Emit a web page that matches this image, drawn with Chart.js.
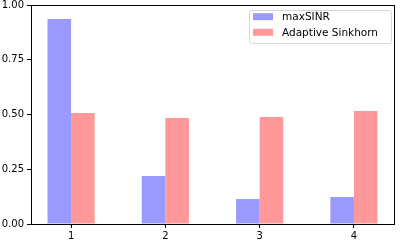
<!DOCTYPE html>
<html>
<head>
<meta charset="utf-8">
<script src="https://cdn.jsdelivr.net/npm/chart.js@4"></script>
<style>
  html, body { margin: 0; padding: 0; background: #fff; }
  #wrap { width: 402px; height: 243px; }
</style>
</head>
<body>
<div id="wrap"><canvas id="chart"></canvas></div>
<script>
const categories = [1, 2, 3, 4];
const maxSINR = [0.936, 0.219, 0.114, 0.123];
const adaptiveSinkhorn = [0.507, 0.484, 0.489, 0.516];
const yTicks = [0, 0.25, 0.5, 0.75, 1.0];

const FONT = { family: 'DejaVu Sans', size: 10 };

// frame around the plot + legend inside the axes (matplotlib style)
const framePlugin = {
  id: 'frame',
  afterDraw(chart) {
    const { ctx, chartArea: a } = chart;
    ctx.save();
    ctx.strokeStyle = '#000';
    ctx.lineWidth = 1;
    ctx.strokeRect(Math.round(a.left) + 0.5, Math.round(a.top) + 0.5,
      Math.round(a.right - a.left), Math.round(a.bottom - a.top));

    // legend box
    const bx = 249.5, by = 10.5, bw = 142, bh = 33;
    ctx.beginPath();
    ctx.roundRect(bx, by, bw, bh, 2);
    ctx.fillStyle = 'rgba(255,255,255,0.8)';
    ctx.fill();
    ctx.strokeStyle = '#d6d6d6';
    ctx.stroke();

    ctx.font = '10.5px "DejaVu Sans"';
    ctx.textBaseline = 'middle';
    chart.data.datasets.forEach((ds, i) => {
      const cy = 16.7 + i * 15.6;
      ctx.fillStyle = ds.backgroundColor;
      ctx.fillRect(253, cy - 3.5, 20, 7);
      ctx.fillStyle = '#000';
      ctx.fillText(ds.label, 282, cy + 0.5);
    });
    ctx.restore();
  }
};

new Chart(document.getElementById('chart'), {
  type: 'bar',
  data: {
    datasets: [
      {
        label: 'maxSINR',
        data: categories.map((c, i) => ({ x: c, y: maxSINR[i] })),
        backgroundColor: '#9999ff',
        borderWidth: 0
      },
      {
        label: 'Adaptive Sinkhorn',
        data: categories.map((c, i) => ({ x: c, y: adaptiveSinkhorn[i] })),
        backgroundColor: '#ff9999',
        borderWidth: 0
      }
    ]
  },
  options: {
    responsive: true,
    maintainAspectRatio: false,
    animation: false,
    categoryPercentage: 0.5,
    barPercentage: 1.0,
    layout: { padding: { top: 5, right: 8, left: 0, bottom: 0 } },
    plugins: {
      legend: { display: false },
      tooltip: { enabled: false }
    },
    scales: {
      x: {
        type: 'linear',
        min: 0.575,
        max: 4.425,
        offset: false,
        afterBuildTicks: (scale) => { scale.ticks = categories.map(v => ({ value: v })); },
        afterFit: (scale) => { scale.height = 19; scale.paddingLeft = 0; scale.paddingRight = 0; },
        ticks: {
          color: '#000',
          font: FONT,
          padding: 2,
          maxRotation: 0,
          callback: (v) => String(v)
        },
        grid: { offset: false, drawOnChartArea: false, drawTicks: true, tickLength: 4, color: '#000' },
        border: { display: true, color: '#000' }
      },
      y: {
        min: 0,
        max: 1,
        afterBuildTicks: (scale) => { scale.ticks = yTicks.map(v => ({ value: v })); },
        afterFit: (scale) => { scale.width = 31; scale.paddingTop = 0; scale.paddingBottom = 0; },
        ticks: {
          color: '#000',
          font: FONT,
          padding: 3,
          callback: (v) => Number(v).toFixed(2)
        },
        grid: { drawOnChartArea: false, drawTicks: true, tickLength: 4, color: '#000' },
        border: { display: true, color: '#000' }
      }
    }
  },
  plugins: [framePlugin]
});
</script>
</body>
</html>
